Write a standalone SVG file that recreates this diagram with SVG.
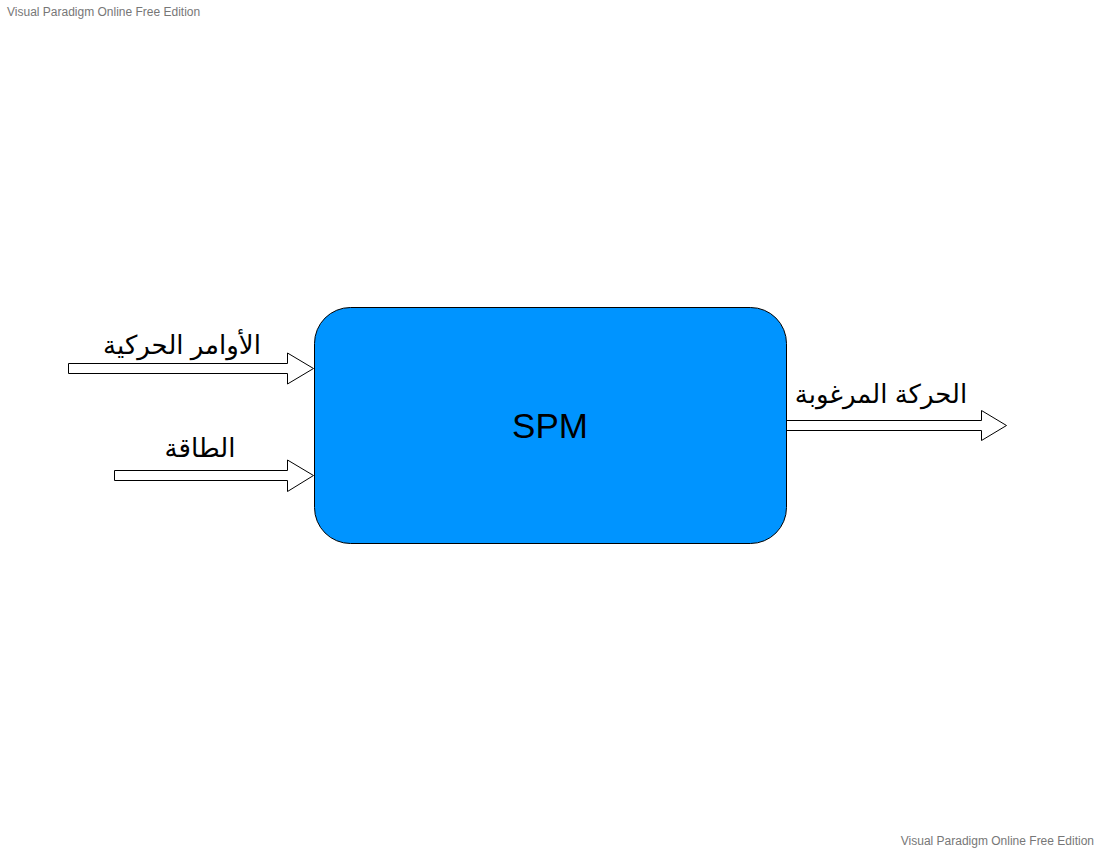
<svg xmlns="http://www.w3.org/2000/svg" width="1100" height="850" viewBox="0 0 1100 850">
<style>
.wm{font-family:"Liberation Sans",Arial,sans-serif;font-size:12px;fill:#777777}
.lbl{font-family:"Liberation Sans","DejaVu Sans","Noto Sans",sans-serif;font-size:26px;fill:#000000}
.arr{fill:#ffffff;stroke:#000000;stroke-width:1}
.node{fill:#0094ff;stroke:#000000;stroke-width:1}
.title{font-family:"Liberation Sans",Arial,sans-serif;font-size:35px;fill:#000000}
</style>
<rect width="1100" height="850" fill="#ffffff"/>
<text class="wm" x="7" y="16">Visual Paradigm Online Free Edition</text>
<text class="wm" x="1094" y="845" text-anchor="end">Visual Paradigm Online Free Edition</text>
<g id="connectors">
<polygon class="arr" points="68.5,363.5 287.5,363.5 287.5,353 313.5,368.5 287.5,384 287.5,373.5 68.5,373.5"/>
<polygon class="arr" points="114.5,470.5 287.5,470.5 287.5,460 313.5,475.5 287.5,491.5 287.5,480.5 114.5,480.5"/>
<polygon class="arr" points="786.5,420.5 981.5,420.5 981.5,410.5 1006.5,425.5 981.5,440.5 981.5,430.5 786.5,430.5"/>
</g>
<g id="label-commands"><text class="lbl" x="182" y="354" text-anchor="middle" direction="rtl">الأوامر الحركية</text></g>
<g id="label-energy"><text class="lbl" x="200" y="457" text-anchor="middle" direction="rtl">الطاقة</text></g>
<g id="label-motion"><text class="lbl" x="881" y="403" text-anchor="middle" direction="rtl">الحركة المرغوبة</text></g>
<g id="spm">
<rect class="node" x="314.5" y="307.5" width="472" height="236" rx="36" ry="36"/>
<text class="title" x="550" y="438" text-anchor="middle">SPM</text>
</g>
</svg>
